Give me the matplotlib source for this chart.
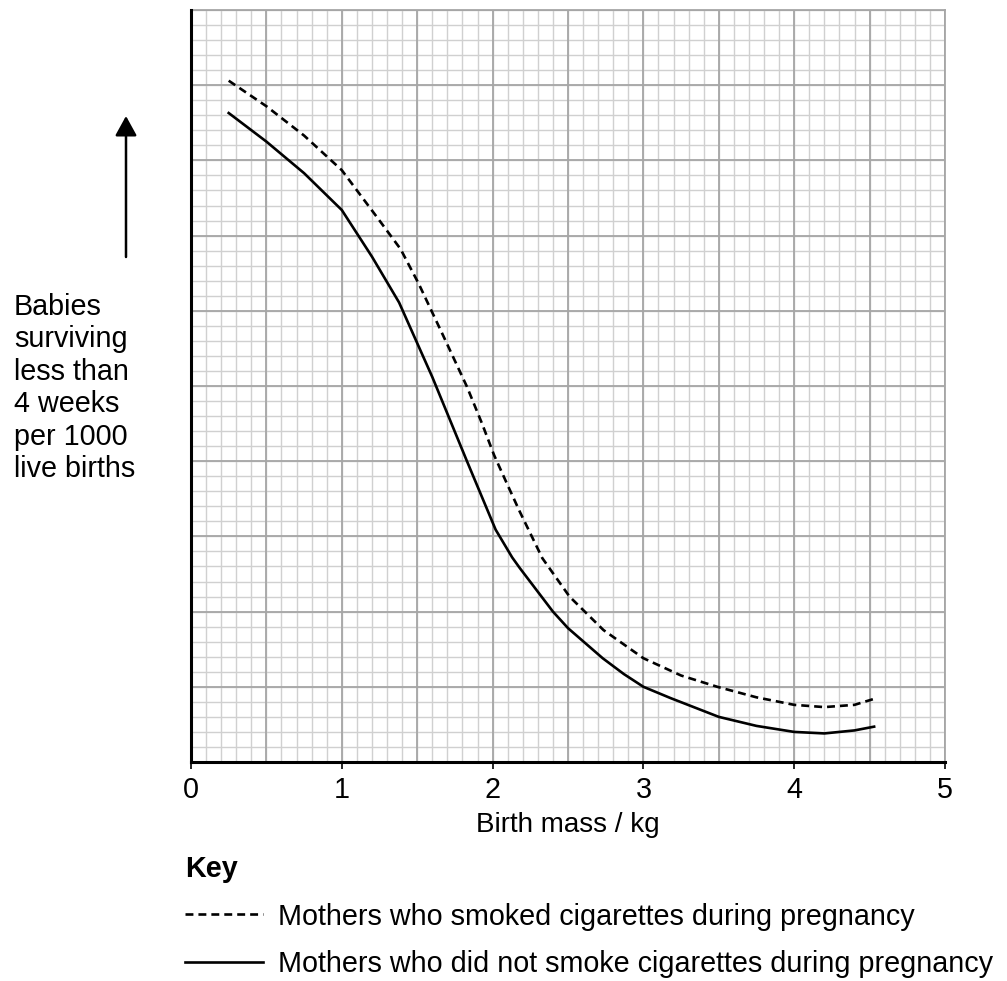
import numpy as np
import matplotlib
matplotlib.use("Agg")
import matplotlib.pyplot as plt

plt.rcParams['font.family'] = ['Liberation Sans', 'DejaVu Sans']

# ---- data (y in major grid units, no scale shown) ----
x_smoked = [0.25, 0.5, 0.75, 1.0, 1.25, 1.39, 1.51, 1.67, 1.83, 1.93, 2.01, 2.1, 2.18,
            2.33, 2.51, 2.735, 3.0, 3.25, 3.49, 3.75, 4.0, 4.2, 4.4, 4.53]
y_smoked = [9.06, 8.72, 8.33, 7.87, 7.2, 6.82, 6.36, 5.68, 4.99, 4.5, 4.08, 3.68, 3.33,
            2.71, 2.2, 1.755, 1.38, 1.15, 1.0, 0.86, 0.76, 0.73, 0.76, 0.84]

x_nonsmoked = [0.25, 0.5, 0.75, 1.0, 1.2, 1.38, 1.6, 1.83, 2.02, 2.13, 2.18, 2.4,
               2.5, 2.73, 2.87, 3.0, 3.18, 3.5, 3.75, 4.0, 4.2, 4.4, 4.53]
y_nonsmoked = [8.63, 8.25, 7.83, 7.34, 6.72, 6.11, 5.12, 4.0, 3.09, 2.72, 2.58, 2.0,
               1.78, 1.38, 1.17, 1.0, 0.85, 0.60, 0.48, 0.40, 0.38, 0.42, 0.47]

x_tick_labels = ['0', '1', '2', '3', '4', '5']
label_smoked = 'Mothers who smoked cigarettes during pregnancy'
label_nonsmoked = 'Mothers who did not smoke cigarettes during pregnancy'
y_label_lines = ['Babies', 'surviving', 'less than', '4 weeks', 'per 1000', 'live births']
x_label = 'Birth mass / kg'

FS = 20.7
W, H = 1007, 981
fig = plt.figure(figsize=(W / 100, H / 100), dpi=100)
ax = fig.add_axes([191 / W, 1 - 762 / H, (945 - 191) / W, (762 - 10) / H])

xmin, xmax, ymin, ymax = 0, 5, 0, 10
ax.set_xlim(xmin, xmax)
ax.set_ylim(ymin, ymax)

minor_c = '#d0d0d0'
major_c = '#a6a6a6'
# graph-paper grid
ax.vlines(np.arange(xmin, xmax + 1e-9, 0.1), ymin, ymax, colors=minor_c, lw=1.0, zorder=0)
ax.hlines(np.arange(ymin, ymax + 1e-9, 0.2), xmin, xmax, colors=minor_c, lw=1.0, zorder=0)
ax.vlines(np.arange(xmin, xmax + 1e-9, 0.5), ymin, ymax, colors=major_c, lw=1.3, zorder=1)
ax.hlines(np.arange(ymin, ymax + 1e-9, 1.0), xmin, xmax, colors=major_c, lw=1.3, zorder=1)

ln_s, = ax.plot(x_smoked, y_smoked, color='black', lw=1.9, dashes=(3.0, 1.9),
                solid_joinstyle='round', dash_joinstyle='round', zorder=3,
                label=label_smoked)
ln_n, = ax.plot(x_nonsmoked, y_nonsmoked, color='black', lw=1.9,
                solid_joinstyle='round', zorder=3, label=label_nonsmoked)

ax.set_xticks(np.arange(0, 6, 1))
ax.set_xticklabels(x_tick_labels, fontsize=FS)
ax.set_yticks([])
ax.tick_params(axis='x', direction='out', length=5, width=1.2, pad=5)
ax.set_xlabel(x_label, fontsize=20, labelpad=6)

for s in ['left', 'bottom']:
    ax.spines[s].set_linewidth(2.2)
    ax.spines[s].set_color('black')
for s in ['top', 'right']:
    ax.spines[s].set_linewidth(1.3)
    ax.spines[s].set_color(major_c)
ax.spines['left'].set_zorder(4)
ax.spines['bottom'].set_zorder(4)

# y-axis description and arrow
fig.text(14 / W, 1 - 388 / H, '\n'.join(y_label_lines), ha='left', va='center',
         fontsize=FS, linespacing=1.2)
ax.annotate('', xy=(126, H - 116), xytext=(126, H - 257),
            xycoords='figure pixels', textcoords='figure pixels',
            arrowprops=dict(arrowstyle='-|>,head_width=0.33,head_length=0.6',
                            mutation_scale=20, lw=1.8, color='black',
                            shrinkA=0, shrinkB=0))

# key
leg = fig.legend(handles=[ln_s, ln_n], loc='upper left',
                 bbox_to_anchor=(185 / W, 1 - 855 / H), frameon=False,
                 title='Key', alignment='left', fontsize=FS,
                 title_fontproperties={'weight': 'bold', 'size': FS},
                 handlelength=2.7, handletextpad=0.52, labelspacing=0.68,
                 borderpad=0, borderaxespad=0)

plt.savefig('out.png', dpi=100)
